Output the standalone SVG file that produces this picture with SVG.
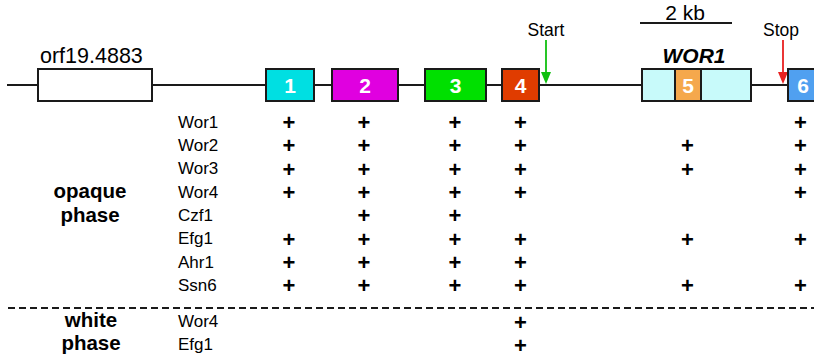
<svg xmlns="http://www.w3.org/2000/svg" width="814" height="358" viewBox="0 0 814 358">
<style>
text{font-family:"Liberation Sans",Arial,sans-serif;fill:#000}
.box{stroke:#1a1a1a;stroke-width:2}
.num{font-size:21px;font-weight:bold;fill:#fff;text-anchor:middle}
.lbl{font-size:17px}
.hdr{font-size:20.5px;font-weight:bold;text-anchor:middle}
.p{font-size:22px;font-weight:bold;text-anchor:middle}
</style>
<g id="connectors">
<line x1="7" y1="85" x2="814" y2="85" stroke="#1a1a1a" stroke-width="1.8"/>
<line x1="546" y1="40" x2="546" y2="74" stroke="#10c010" stroke-width="1.8"/>
<path d="M541,72 L551,72 L546,84 Z" fill="#10c010"/>
<line x1="783" y1="40" x2="783" y2="74" stroke="#e82020" stroke-width="1.8"/>
<path d="M778,72 L788,72 L783,84 Z" fill="#e82020"/>
<line x1="640" y1="23" x2="732" y2="23" stroke="#1a1a1a" stroke-width="1.8"/>
<line x1="8" y1="308" x2="814" y2="308" stroke="#1a1a1a" stroke-width="1.8" stroke-dasharray="7,4"/>
</g>
<g id="orf">
<rect class="box" x="38" y="69" width="114" height="32" fill="#fff"/>
<text x="40" y="63" style="font-size:21.5px">orf19.4883</text>
</g>
<g id="b1"><rect class="box" x="266" y="69" width="48" height="32" fill="#00dfe2"/><text class="num" x="290" y="93">1</text></g>
<g id="b2"><rect class="box" x="332" y="69" width="66" height="32" fill="#e000e0"/><text class="num" x="365" y="93">2</text></g>
<g id="b3"><rect class="box" x="425" y="69" width="61" height="32" fill="#00e000"/><text class="num" x="455.5" y="93">3</text></g>
<g id="b4"><rect class="box" x="502" y="69" width="37" height="32" fill="#e03c00"/><text class="num" x="520.5" y="93">4</text></g>
<g id="wor1">
<rect class="box" x="642" y="69" width="109" height="32" fill="#c8fafa"/>
<rect class="box" x="675" y="69" width="26" height="32" fill="#f5a84c"/>
<text class="num" x="688" y="93">5</text>
<text x="694" y="63" style="font-size:21px;font-weight:bold;font-style:italic;text-anchor:middle">WOR1</text>
</g>
<g id="b6"><rect class="box" x="788" y="69" width="40" height="32" fill="#50a0f0"/><text class="num" x="803" y="93">6</text></g>
<g id="labels">
<text x="546" y="36" style="font-size:17.5px;text-anchor:middle">Start</text>
<text x="781" y="36" style="font-size:17.5px;text-anchor:middle">Stop</text>
<text x="685" y="20" style="font-size:21px;text-anchor:middle">2 kb</text>
<text class="hdr" x="90" y="198">opaque</text>
<text class="hdr" x="90" y="222">phase</text>
<text class="hdr" x="91" y="327">white</text>
<text class="hdr" x="91" y="350">phase</text>
<text class="lbl" x="178" y="127.5">Wor1</text>
<text class="lbl" x="178" y="150.8">Wor2</text>
<text class="lbl" x="178" y="174.2">Wor3</text>
<text class="lbl" x="178" y="197.5">Wor4</text>
<text class="lbl" x="178" y="220.8">Czf1</text>
<text class="lbl" x="178" y="244.2">Efg1</text>
<text class="lbl" x="178" y="267.5">Ahr1</text>
<text class="lbl" x="178" y="290.8">Ssn6</text>
<text class="lbl" x="178" y="327">Wor4</text>
<text class="lbl" x="178" y="350">Efg1</text>
</g>
<g id="plus">
<text class="p" x="289" y="130">+</text><text class="p" x="364" y="130">+</text><text class="p" x="455" y="130">+</text><text class="p" x="520.5" y="130">+</text><text class="p" x="800.5" y="130">+</text>
<text class="p" x="289" y="153.3">+</text><text class="p" x="364" y="153.3">+</text><text class="p" x="455" y="153.3">+</text><text class="p" x="520.5" y="153.3">+</text><text class="p" x="687.5" y="153.3">+</text><text class="p" x="800.5" y="153.3">+</text>
<text class="p" x="289" y="176.7">+</text><text class="p" x="364" y="176.7">+</text><text class="p" x="455" y="176.7">+</text><text class="p" x="520.5" y="176.7">+</text><text class="p" x="687.5" y="176.7">+</text><text class="p" x="800.5" y="176.7">+</text>
<text class="p" x="289" y="200">+</text><text class="p" x="364" y="200">+</text><text class="p" x="455" y="200">+</text><text class="p" x="520.5" y="200">+</text><text class="p" x="800.5" y="200">+</text>
<text class="p" x="364" y="223.3">+</text><text class="p" x="455" y="223.3">+</text>
<text class="p" x="289" y="246.7">+</text><text class="p" x="364" y="246.7">+</text><text class="p" x="455" y="246.7">+</text><text class="p" x="520.5" y="246.7">+</text><text class="p" x="687.5" y="246.7">+</text><text class="p" x="800.5" y="246.7">+</text>
<text class="p" x="289" y="270">+</text><text class="p" x="364" y="270">+</text><text class="p" x="455" y="270">+</text><text class="p" x="520.5" y="270">+</text>
<text class="p" x="289" y="293.3">+</text><text class="p" x="364" y="293.3">+</text><text class="p" x="455" y="293.3">+</text><text class="p" x="520.5" y="293.3">+</text><text class="p" x="687.5" y="293.3">+</text><text class="p" x="800.5" y="293.3">+</text>
<text class="p" x="520.5" y="329.5">+</text>
<text class="p" x="520.5" y="352.5">+</text>
</g>
</svg>
